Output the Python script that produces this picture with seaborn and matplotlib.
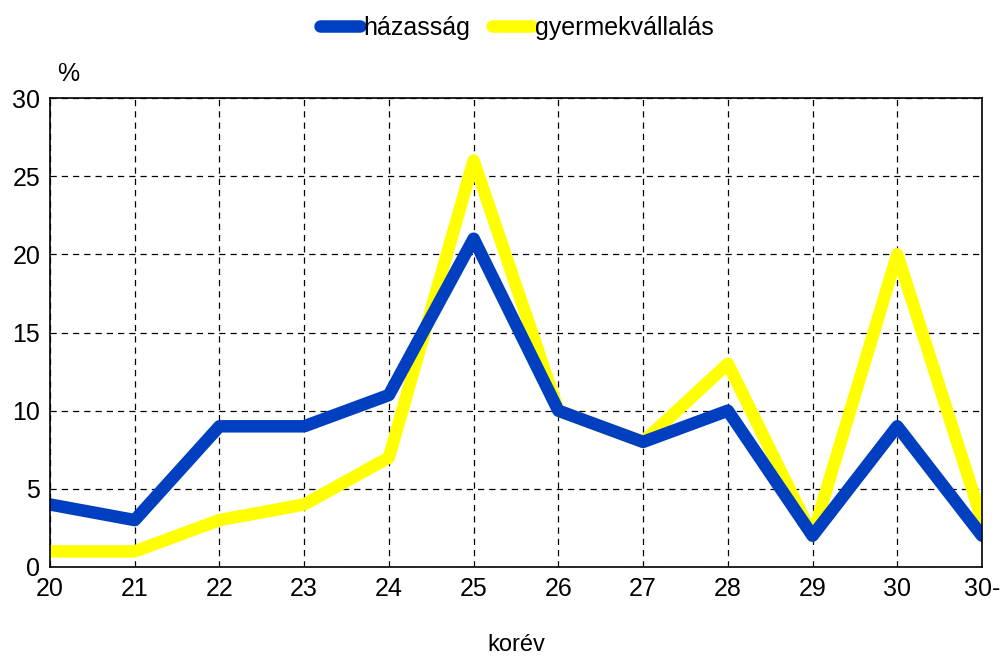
import matplotlib
matplotlib.use("Agg")
import matplotlib.pyplot as plt
from matplotlib.lines import Line2D
import pandas as pd
import seaborn as sns

ages = ["20", "21", "22", "23", "24", "25", "26", "27", "28", "29", "30", "30-"]
hazassag = [4, 3, 9, 9, 11, 21, 10, 8, 10, 2, 9, 2]
gyermek = [1, 1, 3, 4, 7, 26, 10, 8, 13, 2, 20, 3]

series_names = ["házasság", "gyermekvállalás"]
colors = {"házasság": "#0040C0", "gyermekvállalás": "#FFFF00"}

df = pd.concat([
    pd.DataFrame({"korév": ages, "érték": hazassag, "sorozat": series_names[0]}),
    pd.DataFrame({"korév": ages, "érték": gyermek, "sorozat": series_names[1]}),
])
df["pos"] = df["korév"].map({a: i for i, a in enumerate(ages)})

sns.set_style("white")
plt.rcParams["font.family"] = ["Liberation Sans", "DejaVu Sans"]
plt.rcParams["text.color"] = "black"
plt.rcParams["xtick.color"] = "black"
plt.rcParams["ytick.color"] = "black"
plt.rcParams["axes.labelcolor"] = "black"

fig = plt.figure(figsize=(10, 6.56), dpi=100)
ax = fig.add_axes([0.05, 1 - 567 / 656, 0.932, (567 - 98) / 656])

# sárga előbb, hogy a kék legyen felül
sns.lineplot(data=df, x="pos", y="érték", hue="sorozat",
             hue_order=[series_names[1], series_names[0]],
             palette=colors, linewidth=9, ax=ax, sort=False,
             solid_capstyle="round", solid_joinstyle="round", legend=False)

ax.set_xlim(0, len(ages) - 1)
ax.set_ylim(0, 30)
ax.set_xticks(range(len(ages)))
ax.set_xticklabels(ages)
ax.set_yticks(range(0, 31, 5))
ax.tick_params(axis="both", labelsize=18, length=0, pad=7)
ax.grid(True, color="black", linestyle=(0, (5, 4)), linewidth=0.9)
for s in ax.spines.values():
    s.set_color("black")
    s.set_linewidth(1.2)
ax.set_ylabel("")
ax.set_xlabel("korév", fontsize=17, labelpad=24)
ax.text(0.008, 1.025, "%", transform=ax.transAxes, fontsize=18, va="bottom")

handles = [Line2D([], [], color=colors[n], linewidth=9, solid_capstyle="round") for n in series_names]
fig.legend(handles, series_names, loc="center", bbox_to_anchor=(0.517, 0.957),
           ncol=2, frameon=False, fontsize=18, handlelength=1.6,
           handletextpad=0.1, columnspacing=0.9)

fig.savefig("out.png", dpi=100)
